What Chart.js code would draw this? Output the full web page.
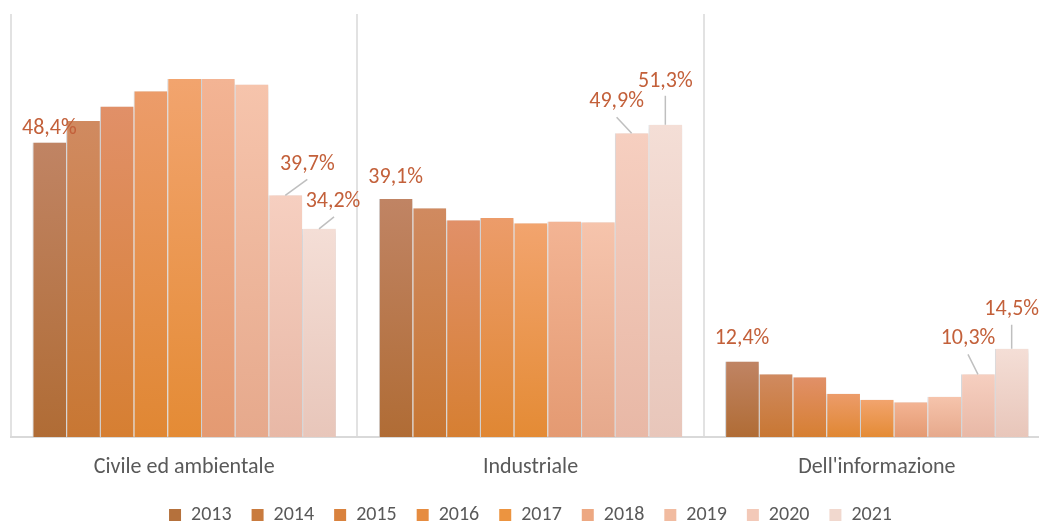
<!DOCTYPE html>
<html lang="it">
<head>
  <meta charset="UTF-8">
  <title>Quota per settore</title>
  <script src="https://cdn.jsdelivr.net/npm/chart.js"></script>
  <style>
    html, body {
      margin: 0;
      padding: 0;
      overflow: hidden;
      background: #fff;
    }

    #wrap {
      width: 1050px;
      height: 535px;
    }
  </style>
</head>
<body>
  <div id="wrap"><canvas id="barChart"></canvas></div>

  <script>
    // dati
    const categorie = ['Civile ed ambientale', 'Industriale', "Dell'informazione"];
    const anni = ['2013', '2014', '2015', '2016', '2017', '2018', '2019', '2020', '2021'];
    const v2013 = [48.4, 39.1, 12.4];
    const v2014 = [51.9, 37.6, 10.3];
    const v2015 = [54.3, 35.6, 9.8];
    const v2016 = [56.8, 36.0, 7.1];
    const v2017 = [58.8, 35.1, 6.1];
    const v2018 = [58.8, 35.4, 5.7];
    const v2019 = [57.9, 35.3, 6.6];
    const v2020 = [39.7, 49.9, 10.3];
    const v2021 = [34.2, 51.3, 14.5];
    const valori = [v2013, v2014, v2015, v2016, v2017, v2018, v2019, v2020, v2021];

    // colori (alto / basso della sfumatura, legenda)
    const coloriAlto = ['#C08464', '#D08A60', '#E19068', '#EC9C6A', '#F2A46E', '#F3B494', '#F6C4AC', '#F6CFC0', '#F4DED6'];
    const coloriBasso = ['#B06C35', '#C87733', '#D67F32', '#E08733', '#E48B35', '#E49A72', '#E6A98C', '#E8B8A6', '#E8C6BA'];
    const coloriLegenda = ['#B5713C', '#C97B3E', '#D9823E', '#E68C40', '#EC9440', '#EDA882', '#F1BBA0', '#F3C9B8', '#F1D8CE'];

    Chart.defaults.font.family = 'Carlito, Lato, sans-serif';

    function sfumatura(i) {
      return function (ctx) {
        const chart = ctx.chart;
        const y = chart.scales.y;
        if (!chart.chartArea || !y || ctx.raw === undefined) return coloriBasso[i];
        const top = y.getPixelForValue(ctx.raw);
        const bottom = y.getPixelForValue(0);
        if (!isFinite(top) || !isFinite(bottom) || bottom - top < 1) return coloriBasso[i];
        const g = chart.ctx.createLinearGradient(0, top, 0, bottom);
        g.addColorStop(0, coloriAlto[i]);
        g.addColorStop(1, coloriBasso[i]);
        return g;
      };
    }

    const ombra = {
      id: 'ombra',
      beforeDatasetsDraw(chart) {
        const c = chart.ctx;
        c.save();
        c.shadowColor = 'rgba(0, 0, 0, 0.16)';
        c.shadowBlur = 5;
        c.shadowOffsetX = 2;
        c.shadowOffsetY = 1;
      },
      afterDatasetsDraw(chart) {
        chart.ctx.restore();
      }
    };

    const etichette = {
      id: 'etichette',
      afterDraw(chart, args, opts) {
        const c = chart.ctx;
        c.save();
        c.font = '22px Carlito, Lato, sans-serif';
        c.textAlign = 'center';
        c.textBaseline = 'middle';
        opts.items.forEach(it => {
          const bar = chart.getDatasetMeta(it.ds).data[it.cat];
          if (!bar) return;
          const x = bar.x;
          const y = bar.y;
          if (it.lx !== undefined) {
            c.strokeStyle = '#BFBFBF';
            c.lineWidth = 1.5;
            c.beginPath();
            c.moveTo(x, y);
            c.lineTo(x + it.lx, y + it.ly);
            c.stroke();
          }
          const v = chart.data.datasets[it.ds].data[it.cat];
          c.fillStyle = '#C3603A';
          c.fillText(v.toFixed(1).replace('.', ',') + '%', x + it.dx, y + it.dy);
        });
        c.restore();
      }
    };

    const datasets = anni.map((a, i) => ({
      label: a,
      data: valori[i],
      backgroundColor: sfumatura(i),
      borderColor: '#D3D6DA',
      borderWidth: { left: 1, right: 0, top: 0, bottom: 0 },
      borderSkipped: false,
      categoryPercentage: 0.876,
      barPercentage: 1
    }));

    new Chart(document.getElementById('barChart'), {
      type: 'bar',
      data: {
        labels: categorie,
        datasets: datasets
      },
      plugins: [ombra, etichette],
      options: {
        responsive: true,
        maintainAspectRatio: false,
        animation: false,
        layout: {
          padding: { top: 14, left: 11, right: 0, bottom: 0 }
        },
        scales: {
          x: {
            offset: true,
            grid: { offset: true, color: '#E2E2E2', lineWidth: 2, drawTicks: false },
            border: { display: true, color: '#D9D9D9', width: 2 },
            ticks: { color: '#595959', font: { size: 22 }, padding: 17 },
            afterFit: function (scale) { scale.height = 48; }
          },
          y: {
            display: false,
            min: 0,
            max: 69.5
          }
        },
        plugins: {
          tooltip: { enabled: false },
          legend: {
            position: 'bottom',
            labels: {
              boxWidth: 12,
              boxHeight: 12,
              padding: 20,
              color: '#595959',
              font: { size: 20 },
              generateLabels: function (chart) {
                return chart.data.datasets.map((d, i) => ({
                  text: d.label,
                  fillStyle: coloriLegenda[i],
                  strokeStyle: coloriLegenda[i],
                  lineWidth: 0,
                  fontColor: '#595959',
                  datasetIndex: i,
                  hidden: false
                }));
              }
            }
          },
          etichette: {
            items: [
              { ds: 0, cat: 0, dx: 0, dy: -14 },
              { ds: 7, cat: 0, dx: 22, dy: -31, lx: 22, ly: -16 },
              { ds: 8, cat: 0, dx: 14, dy: -27, lx: 15, ly: -12 },
              { ds: 0, cat: 1, dx: 0, dy: -22 },
              { ds: 7, cat: 1, dx: -15, dy: -32, lx: -15, ly: -16 },
              { ds: 8, cat: 1, dx: 0, dy: -43, lx: 0, ly: -29 },
              { ds: 0, cat: 2, dx: 0, dy: -23 },
              { ds: 7, cat: 2, dx: -10, dy: -36, lx: -10, ly: -20 },
              { ds: 8, cat: 2, dx: 0, dy: -39, lx: 0, ly: -24 }
            ]
          }
        }
      }
    });
  </script>
</body>
</html>
